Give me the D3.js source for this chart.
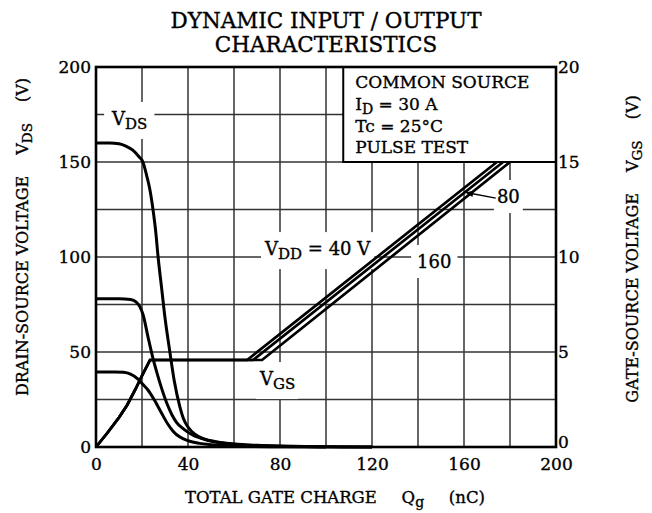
<!DOCTYPE html>
<html><head><meta charset="utf-8">
<script src="https://cdn.jsdelivr.net/npm/d3@7"></script>
<style>
body{margin:0;background:#fff}
text{font-family:'DejaVu Serif',serif;fill:#000;stroke:#000;stroke-width:0.35px}
</style>
</head><body>
<svg id="chart" width="652" height="513"></svg>
<script>
// ---- data ----
const qgTicks = [0, 40, 80, 120, 160, 200];
const vdsTicks = [0, 50, 100, 150, 200];
const vgsTicks = [0, 5, 10, 15, 20];
const qgGrid = [20, 40, 60, 80, 100, 120, 140, 160, 180];
const vdsGrid = [25, 50, 75, 100, 125, 150, 175];

// VDS curves [Qg nC, VDS V]
const vds40 = [[0,39.5],[8,39.5],[12,39.3],[15,38.4],[18,36],[20,33.5],[22.6,30],[25,25.5],[28,19],[31,12.5],[33.6,8.2],[36.5,5.2],[40,3.3],[45,1.9],[50,1.2],[60,0.5],[80,0.15],[100,0]];
const vds80 = [[0,78],[10,78],[15,77.6],[17.5,76.3],[19,74],[20.5,69.5],[22.6,58],[24.5,48],[26.5,39],[28.5,31],[30.8,23],[33,17],[35,13],[38,9.5],[42,6.3],[48,3.7],[54,2.2],[60,1.4],[70,0.7],[80,0.4],[100,0.1],[120,0]];
const vds160 = [[0,160],[6,160],[10,159.6],[13,158.4],[16,156.2],[18.5,153],[20.4,150],[22,143],[23.5,135],[25,123],[26,113],[27,100],[28.5,84],[30,68],[32,51],[34,35],[36.5,21],[38,15],[40,10.5],[43,6.7],[47,4.3],[52,2.8],[60,1.6],[70,0.9],[80,0.5],[100,0.15],[120,0]];

// VGS curves [Qg nC, VGS V]
const vgs40 = [[0,0],[5,0.75],[10,1.55],[13.5,2.2],[17,3.0],[20,3.75],[23.5,4.58],[65.7,4.58],[174.3,15]];
const vgs80 = [[0,0],[5,0.75],[10,1.55],[13.5,2.2],[17,3.0],[20,3.75],[23.5,4.58],[68.3,4.58],[177,15]];
const vgs160 = [[0,0],[5,0.75],[10,1.55],[13.5,2.2],[17,3.0],[20,3.75],[23.5,4.58],[72.2,4.58],[180,15]];

const conditionLines = ["COMMON SOURCE", "I|D| = 30 A", "Tc = 25°C", "PULSE TEST"];

// ---- layout ----
const svg = d3.select("#chart");
const L = 96, R = 556, T = 67, B = 447;
const x = d3.scaleLinear().domain([0, 200]).range([L, R]);
const y = d3.scaleLinear().domain([0, 200]).range([B, T]);
const yR = d3.scaleLinear().domain([0, 20]).range([B, T]);

svg.append("rect").attr("width", 652).attr("height", 513).attr("fill", "#fff");

// grid
const grid = svg.append("g").attr("stroke", "#333").attr("stroke-width", 1.5);
grid.selectAll(".gv").data(qgGrid).join("line")
  .attr("x1", d => x(d)).attr("x2", d => x(d)).attr("y1", T).attr("y2", B);
grid.selectAll(".gh").data(vdsGrid).join("line")
  .attr("y1", d => y(d)).attr("y2", d => y(d)).attr("x1", L).attr("x2", R);

const bgLayer = svg.append("g");
const curveLayer = svg.append("g");
const topLayer = svg.append("g");

// curves
const lineL = d3.line().x(d => x(d[0])).y(d => y(d[1])).curve(d3.curveMonotoneX);
const lineR = d3.line().x(d => x(d[0])).y(d => yR(d[1])).curve(d3.curveLinear);
[vds40, vds80, vds160].forEach(s => {
  curveLayer.append("path").attr("d", lineL(s)).attr("fill", "none")
    .attr("stroke", "#000").attr("stroke-width", 3).attr("stroke-linejoin", "round");
});
[vgs40, vgs80, vgs160].forEach(s => {
  curveLayer.append("path").attr("d", lineR(s)).attr("fill", "none")
    .attr("stroke", "#000").attr("stroke-width", 2.7).attr("stroke-linejoin", "miter");
});

// condition box
const boxQg = 107.5;
curveLayer.append("rect")
  .attr("x", x(boxQg)).attr("y", y(200)).attr("width", x(200) - x(boxQg)).attr("height", y(150) - y(200))
  .attr("fill", "#fff").attr("stroke", "#000").attr("stroke-width", 2);
const boxOffsets = [21, 43, 65, 86];
conditionLines.forEach((s, i) => {
  const t = topLayer.append("text").attr("x", x(boxQg) + 12).attr("y", y(200) + boxOffsets[i]).attr("font-size", 17);
  const parts = s.split("|");
  if (parts.length === 1) t.text(s);
  else {
    t.append("tspan").text(parts[0]);
    t.append("tspan").attr("dy", 4).attr("font-size", 14).text(parts[1]);
    t.append("tspan").attr("dy", -4).text(parts[2]);
  }
});

// frame
svg.append("rect").attr("x", L).attr("y", T).attr("width", R - L).attr("height", B - T)
  .attr("fill", "none").attr("stroke", "#000").attr("stroke-width", 2.6);

// axes labels
const axL = svg.append("g").attr("transform", `translate(${L},0)`)
  .call(d3.axisLeft(y).tickValues(vdsTicks).tickSize(0).tickPadding(5));
const axR = svg.append("g").attr("transform", `translate(${R},0)`)
  .call(d3.axisRight(yR).tickValues(vgsTicks).tickSize(0).tickPadding(2));
const axB = svg.append("g").attr("transform", `translate(0,${B})`)
  .call(d3.axisBottom(x).tickValues(qgTicks).tickSize(0).tickPadding(11));
[axL, axR, axB].forEach(a => {
  a.select(".domain").remove();
  a.selectAll("text").attr("font-family", "'DejaVu Serif',serif").attr("font-size", 17).attr("fill", "#000");
});
// lift the right-axis zero so it clears the bottom "200"
axR.selectAll(".tick").filter(d => d === 0).select("text").attr("dy", "0.05em");

// label helper with subscript & white background
function label(px, py, parts, fs, bg, pad) {
  const t = topLayer.append("text").attr("x", px).attr("y", py).attr("font-size", fs);
  parts.forEach(p => {
    const ts = t.append("tspan").text(p.t);
    if (p.sub) ts.attr("dy", 4).attr("font-size", fs - 3);
    if (p.up) ts.attr("dy", -4);
  });
  if (bg) {
    const b = t.node().getBBox();
    bgLayer.append("rect").attr("x", b.x - pad[0]).attr("y", b.y - pad[1])
      .attr("width", b.width + 2 * pad[0]).attr("height", b.height + 2 * pad[1]).attr("fill", "#fff");
  }
  return t;
}

label(x(7), y(169.5), [{t:"V"},{t:"DS", sub:true}], 18, true, [7, 6]);
label(x(71.3), y(32.6), [{t:"V"},{t:"GS", sub:true}], 18, true, [3, 6]);
label(x(73.5), y(101), [{t:"V"},{t:"DD", sub:true},{t:" = 40 V", up:true}], 18, true, [3, 6]);
label(x(139.6), y(94.2), [{t:"160"}], 18, true, [6, 6]);
label(x(174.3), yR(12.84), [{t:"80"}], 18, true, [3, 6]);

// arrow for 80
const tip = [160.5, 13.4], tail = [173.8, 13.1];
const tx = x(tip[0]), ty = yR(tip[1]), sx = x(tail[0]), sy = yR(tail[1]);
topLayer.append("line").attr("x1", sx).attr("y1", sy).attr("x2", tx + 5).attr("y2", ty + 0.8)
  .attr("stroke", "#000").attr("stroke-width", 1.4);
const ang = Math.atan2(ty - sy, tx - sx);
const ah = 8, aw = 3.2;
const p1 = [tx, ty];
const p2 = [tx - ah * Math.cos(ang) + aw * Math.sin(ang), ty - ah * Math.sin(ang) - aw * Math.cos(ang)];
const p3 = [tx - ah * Math.cos(ang) - aw * Math.sin(ang), ty - ah * Math.sin(ang) + aw * Math.cos(ang)];
topLayer.append("path").attr("d", `M${p1}L${p2}L${p3}Z`).attr("fill", "#000");

// titles
svg.append("text").attr("x", 326).attr("y", 28).attr("text-anchor", "middle").attr("font-size", 21.5)
  .text("DYNAMIC INPUT / OUTPUT");
svg.append("text").attr("x", 326).attr("y", 52).attr("text-anchor", "middle").attr("font-size", 21.5)
  .text("CHARACTERISTICS");

// x title
const xt = svg.append("text").attr("x", 335).attr("y", 503).attr("text-anchor", "middle").attr("font-size", 16.5);
xt.append("tspan").text("TOTAL GATE CHARGE\u2003\u2002Q");
xt.append("tspan").attr("dy", 4).attr("font-size", 14).text("g");
xt.append("tspan").attr("dy", -4).text("\u2003\u2002(nC)");

// left title
const lt = svg.append("text").attr("transform", "translate(28,237) rotate(-90)").attr("text-anchor", "middle").attr("font-size", 16);
lt.append("tspan").text("DRAIN-SOURCE VOLTAGE\u2003 V");
lt.append("tspan").attr("dy", 4).attr("font-size", 13.5).text("DS");
lt.append("tspan").attr("dy", -4).text("\u2003 (V)");

// right title
const rt = svg.append("text").attr("transform", "translate(638,249) rotate(-90)").attr("text-anchor", "middle").attr("font-size", 16);
rt.append("tspan").text("GATE-SOURCE VOLTAGE\u2003 V");
rt.append("tspan").attr("dy", 4).attr("font-size", 13.5).text("GS");
rt.append("tspan").attr("dy", -4).text("\u2003 (V)");
</script>
</body></html>
